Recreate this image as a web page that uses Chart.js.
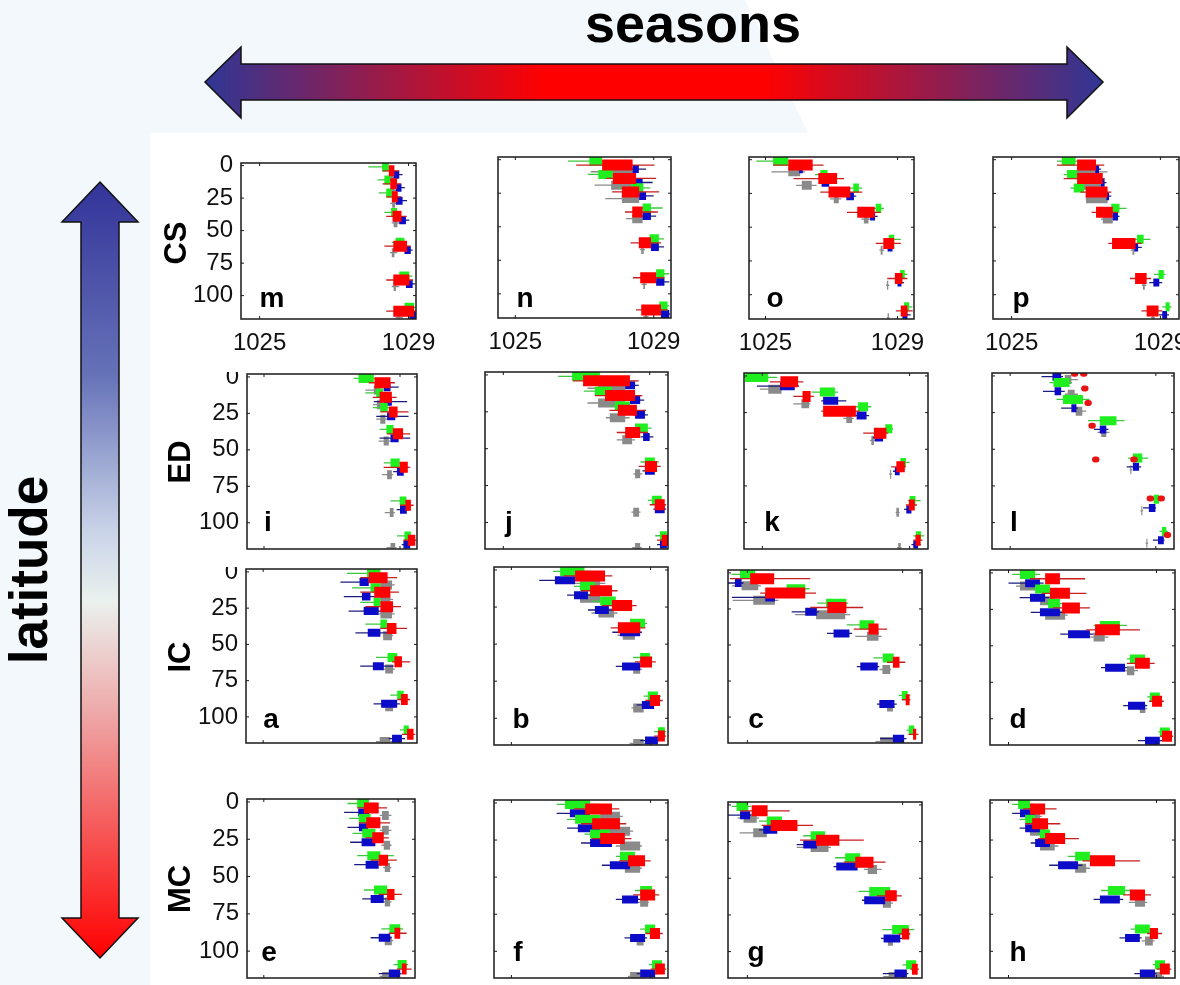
<!DOCTYPE html>
<html>
<head>
<meta charset="utf-8">
<script src="https://cdn.jsdelivr.net/npm/chart.js@4.4.1/dist/chart.umd.min.js"></script>
<style>
  body { margin: 0; width: 1180px; height: 985px; overflow: hidden; background: #fff; font-family: "Liberation Sans", Arial, sans-serif; }
  #bg { position: absolute; left: 0; top: 0; }
  canvas { position: absolute; }
  .lbl { position: absolute; font-weight: bold; color: #000; line-height: 1; white-space: nowrap; }
  .letter { font-size: 28px; transform: translateX(-50%); }
  .row { font-size: 31px; transform: translate(-50%, -50%) rotate(-90deg); }
</style>
</head>
<body>
<svg id="bg" width="1180" height="985">
  <defs>
    <linearGradient id="hgrad" gradientUnits="userSpaceOnUse" x1="205" y1="0" x2="1103" y2="0">
      <stop offset="0" stop-color="#2f3796"/>
      <stop offset="0.38" stop-color="#ff0000"/>
      <stop offset="0.62" stop-color="#ff0000"/>
      <stop offset="1" stop-color="#2f3796"/>
    </linearGradient>
    <linearGradient id="vgrad" gradientUnits="userSpaceOnUse" x1="0" y1="182" x2="0" y2="958">
      <stop offset="0" stop-color="#333399"/>
      <stop offset="0.25" stop-color="#6673b8"/>
      <stop offset="0.45" stop-color="#c9d3e8"/>
      <stop offset="0.54" stop-color="#eaf1ee"/>
      <stop offset="0.68" stop-color="#eeaaaa"/>
      <stop offset="1" stop-color="#ff0000"/>
    </linearGradient>
  </defs>
  <!-- faint slide background -->
  <polygon points="0,0 745,0 808,133 150,133 150,985 0,985" fill="#f3f8fc"/>
  <polygon points="205,82 241,47 241,64 1067,64 1067,47 1103,82 1067,118 1067,100 241,100 241,118"
           fill="url(#hgrad)" stroke="#111" stroke-width="1.5"/>
  <polygon points="100,182 138,222 119,222 119,918 138,918 100,958 62,918 81,918 81,222 62,222"
           fill="url(#vgrad)" stroke="#111" stroke-width="1.5"/>
</svg>

<div class="lbl" style="left:693px;top:-4px;font-size:54px;transform:translateX(-50%);">seasons</div>
<div class="lbl" style="left:28px;top:570px;font-size:53px;transform:translate(-50%,-50%) rotate(-90deg);">latitude</div>

<script>
//#region data
// depth (m) of each sampling group, x values are density (kg/m3)
// every row is [whisker low, box low, box high, whisker high]
const depthLevels = [4, 14, 24, 39, 62, 88, 112];
const lDepthLevels = [-2.5, 7.5, 19, 33.5, 59, 87, 109];
const xTickValues = [1025, 1029];
const yTickValues = [0, 25, 50, 75, 100];

// CS row
const mGreen = [[1027.92,1028.29,1028.47,1028.55],[1028.17,1028.35,1028.51,1028.6],[1028.2,1028.4,1028.55,1028.62],[1028.35,1028.53,1028.69,1028.8],[1028.55,1028.65,1028.89,1028.95],[1028.7,1028.75,1029.02,1029.1],[1028.85,1028.89,1029.15,1029.2]];
const mRed = [[1028.3,1028.47,1028.62,1028.75],[1028.3,1028.51,1028.69,1028.8],[1028.4,1028.55,1028.71,1028.8],[1028.4,1028.57,1028.81,1028.95],[1028.35,1028.59,1028.96,1029.06],[1028.4,1028.59,1029.02,1029.12],[1028.4,1028.59,1029.15,1029.2]];
const mBlue = [[1028.5,1028.6,1028.75,1028.84],[1028.55,1028.66,1028.81,1028.9],[1028.6,1028.66,1028.84,1028.96],[1028.7,1028.75,1028.93,1029.02],[1028.85,1028.89,1029.06,1029.11],[1028.9,1028.93,1029.11,1029.18],[1029.0,1029.02,1029.2,1029.2]];
const mGray = [[1028.45,1028.5,1028.58,1028.62],[1028.5,1028.55,1028.62,1028.7],[1028.5,1028.56,1028.64,1028.7],[1028.55,1028.6,1028.7,1028.8],[1028.5,1028.55,1028.62,1028.7],[1028.55,1028.6,1028.66,1028.75],[1028.65,1028.7,1028.78,1028.85]];

const nGreen = [[1026.52,1027.14,1027.51,1027.9],[1027.1,1027.4,1027.82,1028.0],[1028.0,1028.35,1028.7,1028.9],[1028.5,1028.68,1028.92,1029.26],[1028.7,1028.88,1029.15,1029.3],[1028.95,1029.07,1029.31,1029.45],[1029.1,1029.16,1029.4,1029.45]];
const nRed = [[1026.76,1027.51,1028.39,1029.02],[1027.62,1027.82,1028.49,1029.07],[1027.8,1028.08,1028.58,1029.16],[1028.17,1028.38,1028.68,1029.12],[1028.33,1028.57,1028.92,1029.21],[1028.4,1028.61,1029.07,1029.31],[1028.49,1028.64,1029.21,1029.4]];
const nBlue = [[1028.3,1028.39,1028.57,1028.78],[1028.4,1028.49,1028.68,1028.97],[1028.5,1028.58,1028.78,1029.0],[1028.6,1028.68,1028.92,1029.07],[1028.85,1028.92,1029.15,1029.3],[1029.0,1029.07,1029.31,1029.45],[1029.15,1029.21,1029.45,1029.47]];
const nGray = [[1027.18,1027.62,1028.39,1028.49],[1027.29,1027.77,1028.49,1028.68],[1027.6,1028.08,1028.58,1028.7],[1028.2,1028.38,1028.68,1028.8],[1028.6,1028.64,1028.71,1028.75],[1028.65,1028.7,1028.75,1028.8],[1028.7,1028.75,1028.8,1028.85]];

const oGreen = [[1024.72,1025.23,1025.69,1025.9],[1026.5,1026.66,1026.88,1027.0],[1027.5,1027.66,1027.83,1027.93],[1028.25,1028.34,1028.51,1028.59],[1028.6,1028.74,1028.9,1029.1],[1029.0,1029.08,1029.22,1029.3],[1029.15,1029.2,1029.35,1029.45]];
const oRed = [[1025.23,1025.69,1026.43,1026.76],[1025.85,1026.6,1027.17,1027.38],[1026.66,1026.91,1027.57,1027.93],[1027.47,1027.78,1028.31,1028.49],[1028.34,1028.57,1028.9,1029.1],[1028.69,1028.92,1029.15,1029.3],[1028.95,1029.1,1029.3,1029.46]];
const oBlue = [[1025.95,1026.02,1026.13,1026.2],[1026.65,1026.7,1026.93,1027.0],[1027.35,1027.45,1027.68,1027.75],[1028.0,1028.17,1028.32,1028.4],[1028.6,1028.7,1028.85,1028.9],[1028.95,1029.0,1029.12,1029.2],[1029.1,1029.15,1029.3,1029.4]];
const oGray = [[1025.18,1025.69,1026.05,1026.2],[1025.93,1026.1,1026.4,1026.55],[1026.95,1027.07,1027.22,1027.3],[1027.9,1027.98,1028.12,1028.2],[1028.45,1028.49,1028.55,1028.6],[1028.65,1028.68,1028.72,1028.75],[1028.68,1028.7,1028.74,1028.76]];

const pGreen = [[1026.22,1026.35,1026.72,1026.81],[1026.4,1026.49,1026.76,1026.85],[1026.58,1026.67,1026.95,1027.1],[1027.5,1027.68,1027.9,1028.09],[1028.25,1028.37,1028.55,1028.73],[1028.82,1028.95,1029.09,1029.14],[1029.05,1029.14,1029.25,1029.3]];
const pRed = [[1026.22,1026.76,1027.27,1027.49],[1026.4,1026.76,1027.45,1027.5],[1026.85,1026.99,1027.58,1027.68],[1027.15,1027.27,1027.72,1027.86],[1027.6,1027.7,1028.33,1028.5],[1028.18,1028.32,1028.63,1028.75],[1028.49,1028.63,1028.95,1029.05]];
const pBlue = [[1027.2,1027.25,1027.35,1027.4],[1027.35,1027.4,1027.5,1027.55],[1027.5,1027.55,1027.62,1027.68],[1027.68,1027.72,1027.86,1027.9],[1028.28,1028.3,1028.4,1028.5],[1028.7,1028.81,1028.97,1029.05],[1028.95,1029.05,1029.18,1029.23]];
const pGray = [[1026.67,1026.76,1027.27,1027.58],[1026.85,1026.9,1027.4,1027.45],[1026.99,1027.0,1027.58,1027.6],[1027.4,1027.45,1027.72,1027.8],[1028.2,1028.25,1028.3,1028.35],[1028.5,1028.53,1028.58,1028.62],[1028.75,1028.78,1028.82,1028.85]];

// ED row
const iGreen = [[1027.64,1027.78,1028.23,1028.4],[1027.98,1028.3,1028.5,1028.6],[1028.2,1028.42,1028.64,1028.72],[1028.4,1028.6,1028.81,1028.9],[1028.52,1028.72,1028.99,1029.05],[1028.72,1028.99,1029.19,1029.25],[1028.91,1029.13,1029.32,1029.38]];
const iRed = [[1028.08,1028.25,1028.72,1028.85],[1028.2,1028.4,1028.76,1028.9],[1028.42,1028.67,1028.93,1029.25],[1028.62,1028.79,1029.09,1029.3],[1028.52,1028.99,1029.23,1029.3],[1029.0,1029.16,1029.32,1029.4],[1029.1,1029.23,1029.45,1029.48]];
const iBlue = [[1028.3,1028.52,1028.72,1028.96],[1028.23,1028.52,1028.76,1029.21],[1028.3,1028.62,1028.86,1029.25],[1028.4,1028.72,1028.96,1029.3],[1028.8,1028.91,1029.11,1029.2],[1028.9,1029.0,1029.2,1029.3],[1029.05,1029.1,1029.3,1029.4]];
const iGray = [[1027.98,1028.23,1028.42,1028.5],[1028.2,1028.32,1028.47,1028.55],[1028.3,1028.42,1028.57,1028.62],[1028.37,1028.52,1028.67,1028.72],[1028.47,1028.62,1028.76,1028.8],[1028.55,1028.7,1028.81,1028.85],[1028.6,1028.72,1028.86,1028.9]];

const jGreen = [[1026.5,1026.88,1027.64,1027.9],[1027.2,1027.5,1027.97,1028.1],[1027.9,1028.05,1028.46,1028.6],[1028.45,1028.6,1028.95,1029.05],[1028.75,1028.87,1029.14,1029.25],[1028.95,1029.06,1029.33,1029.4],[1029.15,1029.28,1029.47,1029.5]];
const jRed = [[1026.9,1027.18,1028.46,1028.7],[1027.5,1027.78,1028.6,1028.8],[1027.9,1028.13,1028.65,1028.9],[1028.1,1028.33,1028.74,1028.95],[1028.7,1028.87,1029.2,1029.3],[1029.0,1029.14,1029.41,1029.45],[1029.2,1029.33,1029.5,1029.5]];
const jBlue = [[1028.2,1028.33,1028.6,1028.7],[1028.4,1028.46,1028.74,1028.85],[1028.55,1028.6,1028.87,1028.95],[1028.75,1028.82,1029.0,1029.1],[1028.8,1028.87,1029.14,1029.2],[1029.1,1029.14,1029.41,1029.45],[1029.2,1029.28,1029.47,1029.5]];
const jGray = [[1027.3,1027.59,1028.33,1028.45],[1027.3,1027.59,1028.33,1028.45],[1027.8,1027.91,1028.33,1028.45],[1028.1,1028.25,1028.52,1028.6],[1028.55,1028.6,1028.74,1028.8],[1028.5,1028.55,1028.71,1028.75],[1028.52,1028.6,1028.74,1028.78]];

const kGreen = [[1024.5,1024.53,1025.16,1025.4],[1026.34,1026.56,1026.97,1027.06],[1027.5,1027.6,1027.87,1027.96],[1028.2,1028.34,1028.53,1028.55],[1028.7,1028.75,1028.9,1029.0],[1028.95,1029.0,1029.16,1029.3],[1029.1,1029.17,1029.31,1029.4]];
const kRed = [[1025.2,1025.49,1025.97,1026.11],[1025.84,1026.09,1026.31,1026.4],[1026.6,1026.65,1027.54,1027.65],[1027.74,1028.03,1028.37,1028.42],[1028.5,1028.64,1028.87,1028.9],[1028.9,1028.98,1029.14,1029.2],[1029.1,1029.16,1029.3,1029.35]];
const kBlue = [[1024.85,1025.48,1025.88,1026.0],[1026.6,1026.65,1027.06,1027.28],[1027.5,1027.56,1027.83,1027.9],[1028.0,1028.05,1028.28,1028.3],[1028.55,1028.6,1028.73,1028.78],[1028.85,1028.91,1029.05,1029.1],[1029.05,1029.1,1029.23,1029.3]];
const kGray = [[1024.93,1025.16,1025.52,1025.6],[1025.84,1026.06,1026.27,1026.3],[1027.2,1027.28,1027.44,1027.48],[1027.92,1027.96,1028.03,1028.05],[1028.44,1028.47,1028.5,1028.52],[1028.62,1028.64,1028.71,1028.73],[1028.66,1028.69,1028.76,1028.78]];

const lGreen = [null,[1026.08,1026.19,1026.63,1026.7],[1026.27,1026.45,1027.0,1027.18],[1027.14,1027.46,1027.92,1028.14],[1028.24,1028.37,1028.63,1028.79],[1028.88,1028.94,1029.09,1029.15],[1029.1,1029.17,1029.29,1029.33]];
const lBlue = [[1025.86,1026.16,1026.4,1026.45],[1025.9,1026.22,1026.4,1026.5],[1026.4,1026.68,1026.82,1026.86],[1027.3,1027.46,1027.64,1027.7],[1028.2,1028.37,1028.54,1028.6],[1028.65,1028.81,1028.99,1029.01],[1028.92,1029.06,1029.22,1029.24]];
const lGray = [[1026.27,1026.5,1026.68,1026.86],[1026.5,1026.58,1026.77,1026.86],[1026.73,1026.8,1026.98,1027.09],[1027.4,1027.5,1027.64,1027.73],[1028.28,1028.3,1028.33,1028.35],[1028.58,1028.6,1028.63,1028.65],[1028.72,1028.74,1028.77,1028.79]];
// panel l shows red only as single dots
const lRedX = [1026.77, 1027.02, 1027.05, 1027.14, 1027.25, 1027.35, 1028.4, 1028.85, 1029.15, 1029.32];
const lRedY = [-1.5, -1.5, 8.5, 18.5, 34, 57, 57, 83.5, 83.5, 108.5];

// IC row
const aGreen = [[1027.45,1028.04,1028.43,1028.55],[1027.6,1028.14,1028.43,1028.55],[1027.84,1028.23,1028.43,1028.5],[1027.99,1028.43,1028.62,1028.82],[1028.3,1028.64,1028.92,1029.0],[1028.72,1028.92,1029.11,1029.15],[1029.0,1029.11,1029.26,1029.3]];
const aRed = [[1027.84,1028.09,1028.64,1028.92],[1027.84,1028.25,1028.72,1028.97],[1027.99,1028.43,1028.8,1029.03],[1028.43,1028.62,1028.9,1029.21],[1028.77,1028.84,1029.06,1029.3],[1028.92,1029.03,1029.23,1029.3],[1029.06,1029.21,1029.4,1029.45]];
const aBlue = [[1027.26,1027.82,1028.09,1028.43],[1027.36,1027.89,1028.14,1028.5],[1027.5,1027.94,1028.38,1028.6],[1027.7,1028.06,1028.43,1028.7],[1027.84,1028.21,1028.53,1028.82],[1028.23,1028.45,1028.92,1029.0],[1028.67,1028.77,1029.06,1029.15]];
const aGray = [[1028.3,1028.43,1028.77,1028.85],[1028.35,1028.43,1028.72,1028.8],[1028.38,1028.43,1028.77,1028.85],[1028.5,1028.51,1028.77,1028.8],[1028.5,1028.57,1028.8,1028.85],[1028.5,1028.57,1028.8,1028.85],[1028.3,1028.41,1028.72,1028.8]];

const bGreen = [[1026.2,1026.4,1027.1,1027.3],[1026.8,1026.97,1027.4,1027.55],[1027.3,1027.55,1028.0,1028.1],[1028.2,1028.41,1028.84,1028.9],[1028.5,1028.7,1028.98,1029.05],[1028.8,1028.92,1029.21,1029.3],[1029.1,1029.21,1029.41,1029.45]];
const bRed = [[1026.5,1026.83,1027.69,1027.9],[1027.0,1027.26,1027.89,1028.05],[1027.6,1027.89,1028.47,1028.6],[1027.85,1028.06,1028.7,1028.85],[1028.55,1028.7,1029.04,1029.15],[1028.85,1028.98,1029.27,1029.35],[1029.1,1029.21,1029.41,1029.45]];
const bBlue = [[1025.8,1026.25,1026.83,1027.0],[1026.6,1026.8,1027.2,1027.35],[1027.2,1027.4,1027.8,1027.9],[1027.9,1028.12,1028.7,1028.75],[1028.0,1028.18,1028.7,1028.75],[1028.6,1028.75,1029.1,1029.15],[1028.7,1028.84,1029.21,1029.25]];
const bGray = [[1026.6,1026.97,1027.55,1027.7],[1026.8,1026.97,1027.55,1027.7],[1027.3,1027.5,1027.95,1028.05],[1028.05,1028.2,1028.55,1028.6],[1028.4,1028.5,1028.7,1028.75],[1028.45,1028.5,1028.8,1028.85],[1028.4,1028.5,1028.8,1028.85]];

const cGreen = [[1024.59,1024.81,1025.2,1025.3],[1025.8,1026.01,1026.49,1026.6],[1026.8,1027.03,1027.55,1027.6],[1027.56,1027.89,1028.27,1028.35],[1028.25,1028.49,1028.77,1028.85],[1028.9,1028.98,1029.13,1029.2],[1029.1,1029.16,1029.3,1029.35]];
const cRed = [[1024.55,1025.07,1025.69,1026.62],[1025.33,1025.46,1026.49,1026.77],[1026.62,1027.06,1027.55,1027.98],[1027.74,1028.12,1028.38,1028.6],[1028.6,1028.75,1028.92,1029.07],[1028.98,1029.08,1029.18,1029.2],[1029.15,1029.27,1029.35,1029.41]];
const cBlue = [[1024.5,1024.68,1024.85,1024.9],[1024.6,1025.46,1025.71,1025.75],[1026.14,1026.49,1026.79,1026.85],[1027.05,1027.22,1027.63,1027.7],[1027.82,1027.91,1028.36,1028.4],[1028.34,1028.4,1028.79,1028.85],[1028.42,1028.75,1029.04,1029.1]];
const cGray = [[1024.6,1024.85,1025.28,1025.35],[1024.62,1025.15,1025.71,1025.8],[1026.23,1026.77,1027.52,1027.65],[1027.78,1028.08,1028.38,1028.46],[1028.4,1028.48,1028.68,1028.7],[1028.55,1028.6,1028.75,1028.8],[1028.3,1028.42,1028.77,1028.8]];

const dGreen = [[1025.1,1025.31,1025.72,1025.85],[1025.6,1025.72,1026.12,1026.25],[1025.95,1026.07,1026.39,1026.5],[1027.3,1027.47,1028.01,1028.2],[1028.2,1028.28,1028.69,1028.8],[1028.75,1028.82,1029.09,1029.15],[1029.05,1029.09,1029.36,1029.4]];
const dRed = [[1025.58,1025.99,1026.39,1027.07],[1025.9,1026.12,1026.66,1027.1],[1026.2,1026.45,1026.93,1027.2],[1027.1,1027.34,1028.01,1028.55],[1028.2,1028.42,1028.82,1028.95],[1028.8,1028.88,1029.15,1029.2],[1029.1,1029.15,1029.42,1029.45]];
const dBlue = [[1025.0,1025.45,1025.85,1025.95],[1025.3,1025.58,1025.99,1026.1],[1025.6,1025.85,1026.39,1026.45],[1026.4,1026.61,1027.2,1027.3],[1027.5,1027.61,1028.15,1028.2],[1028.1,1028.23,1028.69,1028.75],[1028.5,1028.69,1029.09,1029.15]];
const dGray = [[1025.2,1025.31,1025.72,1025.8],[1025.6,1025.85,1026.25,1026.35],[1025.9,1025.99,1026.53,1026.6],[1027.2,1027.3,1027.6,1027.7],[1028.1,1028.2,1028.4,1028.5],[1028.5,1028.55,1028.7,1028.75],[1028.8,1028.85,1029.0,1029.05]];

// MC row
const eGreen = [[1027.49,1027.78,1028.13,1028.3],[1027.54,1027.83,1028.18,1028.3],[1027.64,1027.93,1028.32,1028.45],[1027.78,1028.08,1028.47,1028.87],[1027.98,1028.28,1028.67,1028.8],[1028.5,1028.74,1029.06,1029.15],[1028.86,1028.98,1029.25,1029.3]];
const eRed = [[1027.78,1027.98,1028.42,1028.67],[1027.83,1028.05,1028.47,1028.76],[1028.03,1028.23,1028.57,1028.72],[1028.18,1028.42,1028.7,1028.96],[1028.42,1028.67,1028.89,1029.11],[1028.72,1028.89,1029.06,1029.25],[1028.96,1029.11,1029.25,1029.4]];
const eBlue = [[1027.39,1027.81,1028.13,1028.2],[1027.49,1027.83,1028.1,1028.2],[1027.57,1027.91,1028.32,1028.4],[1027.69,1028.03,1028.42,1028.5],[1027.93,1028.18,1028.57,1028.65],[1028.18,1028.42,1028.76,1028.8],[1028.42,1028.72,1029.06,1029.1]];
const eGray = [[1028.45,1028.52,1028.72,1028.8],[1028.45,1028.52,1028.72,1028.8],[1028.5,1028.57,1028.76,1028.8],[1028.55,1028.6,1028.76,1028.8],[1028.55,1028.6,1028.76,1028.8],[1028.55,1028.6,1028.81,1028.85],[1028.45,1028.52,1028.72,1028.75]];

const fGreen = [[1026.3,1026.54,1027.26,1027.5],[1026.6,1026.83,1027.55,1027.7],[1027.1,1027.26,1027.83,1027.95],[1028.0,1028.12,1028.55,1028.65],[1028.55,1028.7,1029.04,1029.1],[1028.7,1028.84,1029.13,1029.2],[1028.95,1029.04,1029.33,1029.4]];
const fRed = [[1026.8,1027.12,1027.89,1028.1],[1027.0,1027.32,1028.12,1028.3],[1027.3,1027.55,1028.26,1028.45],[1028.1,1028.35,1028.84,1029.0],[1028.5,1028.7,1029.13,1029.25],[1028.85,1028.98,1029.27,1029.35],[1029.0,1029.13,1029.41,1029.45]];
const fBlue = [[1026.3,1026.68,1027.26,1027.4],[1026.6,1026.91,1027.55,1027.65],[1027.0,1027.26,1027.89,1028.0],[1027.6,1027.83,1028.41,1028.5],[1028.0,1028.18,1028.64,1028.7],[1028.25,1028.41,1028.84,1028.9],[1028.6,1028.7,1029.13,1029.2]];
const fGray = [[1027.4,1027.55,1028.12,1028.2],[1027.4,1027.55,1028.41,1028.5],[1028.0,1028.12,1028.7,1028.75],[1028.2,1028.26,1028.7,1028.75],[1028.6,1028.7,1028.93,1028.95],[1028.5,1028.6,1028.8,1028.85],[1028.35,1028.41,1028.7,1028.75]];

const gGreen = [[1024.6,1024.72,1025.02,1025.1],[1025.3,1025.5,1025.89,1025.95],[1026.44,1026.63,1027.0,1027.1],[1027.26,1027.52,1027.91,1028.0],[1027.86,1028.14,1028.68,1028.75],[1028.48,1028.73,1029.16,1029.3],[1029.0,1029.09,1029.35,1029.4]];
const gRed = [[1024.81,1025.11,1025.52,1026.09],[1025.37,1025.6,1026.29,1026.69],[1026.36,1026.77,1027.37,1028.0],[1027.48,1027.78,1028.25,1028.56],[1028.34,1028.55,1028.85,1028.98],[1028.9,1028.98,1029.17,1029.2],[1029.2,1029.24,1029.39,1029.42]];
const gBlue = [[1024.5,1024.81,1025.07,1025.1],[1025.3,1025.41,1025.77,1025.85],[1026.27,1026.44,1026.79,1026.85],[1027.22,1027.29,1027.84,1027.9],[1027.95,1028.01,1028.55,1028.6],[1028.44,1028.51,1028.94,1029.0],[1028.49,1028.79,1029.11,1029.15]];
const gGray = [[1024.75,1024.9,1025.24,1025.3],[1024.8,1025.15,1025.5,1025.55],[1026.27,1026.63,1027.09,1027.15],[1028.0,1028.1,1028.34,1028.46],[1028.45,1028.49,1028.7,1028.75],[1028.6,1028.62,1028.75,1028.8],[1028.5,1028.64,1028.81,1028.85]];

const hGreen = [[1025.1,1025.26,1025.58,1025.7],[1025.3,1025.45,1025.72,1025.8],[1025.75,1025.85,1026.12,1026.2],[1026.6,1026.8,1027.2,1027.35],[1027.5,1027.69,1028.15,1028.3],[1028.3,1028.42,1028.82,1028.9],[1028.9,1028.96,1029.23,1029.3]];
const hRed = [[1025.4,1025.58,1025.99,1026.3],[1025.45,1025.64,1026.07,1026.4],[1025.8,1025.99,1026.53,1026.9],[1027.0,1027.2,1027.88,1028.55],[1028.1,1028.28,1028.69,1028.85],[1028.75,1028.82,1029.04,1029.15],[1029.0,1029.09,1029.36,1029.4]];
const hBlue = [[1025.1,1025.31,1025.72,1025.8],[1025.3,1025.45,1025.85,1025.9],[1025.6,1025.72,1026.12,1026.2],[1026.1,1026.34,1026.88,1027.0],[1027.3,1027.47,1028.01,1028.1],[1028.0,1028.15,1028.55,1028.6],[1028.4,1028.55,1028.96,1029.0]];
const hGray = [[1025.4,1025.53,1025.85,1025.9],[1025.5,1025.58,1025.99,1026.1],[1025.75,1025.85,1026.25,1026.35],[1026.7,1026.8,1027.1,1027.2],[1028.25,1028.42,1028.69,1028.75],[1028.6,1028.69,1028.9,1028.95],[1028.85,1028.96,1029.15,1029.2]];
//#endregion

//#region layout
// frame = [left, top, width, height] of each plot box on the page
const panels = [
  { id: "m", frame: [241, 163, 175, 156], xMax: 1029.2, row: 0, col: 0, green: mGreen, red: mRed, blue: mBlue, gray: mGray },
  { id: "n", frame: [498, 157, 173, 161], xMax: 1029.5, row: 0, col: 1, green: nGreen, red: nRed, blue: nBlue, gray: nGray },
  { id: "o", frame: [749, 157, 165, 162], xMax: 1029.5, row: 0, col: 2, green: oGreen, red: oRed, blue: oBlue, gray: oGray },
  { id: "p", frame: [993, 157, 186, 162], xMax: 1029.5, row: 0, col: 3, green: pGreen, red: pRed, blue: pBlue, gray: pGray },
  { id: "i", frame: [247, 374, 170, 175], xMax: 1029.5, row: 1, col: 0, green: iGreen, red: iRed, blue: iBlue, gray: iGray },
  { id: "j", frame: [485, 372, 183, 177], xMax: 1029.5, row: 1, col: 1, green: jGreen, red: jRed, blue: jBlue, gray: jGray },
  { id: "k", frame: [744, 373, 184, 176], xMax: 1029.5, row: 1, col: 2, green: kGreen, red: kRed, blue: kBlue, gray: kGray },
  { id: "l", frame: [992, 373, 182, 176], xMax: 1029.5, row: 1, col: 3, green: lGreen, red: null, blue: lBlue, gray: lGray, depth: lDepthLevels },
  { id: "a", frame: [246, 569, 171, 174], xMax: 1029.5, row: 2, col: 0, green: aGreen, red: aRed, blue: aBlue, gray: aGray },
  { id: "b", frame: [494, 567, 174, 178], xMax: 1029.5, row: 2, col: 1, green: bGreen, red: bRed, blue: bBlue, gray: bGray },
  { id: "c", frame: [728, 570, 194, 173], xMax: 1029.5, row: 2, col: 2, green: cGreen, red: cRed, blue: cBlue, gray: cGray },
  { id: "d", frame: [990, 570, 185, 175], xMax: 1029.5, row: 2, col: 3, green: dGreen, red: dRed, blue: dBlue, gray: dGray },
  { id: "e", frame: [247, 799, 168, 179], xMax: 1029.5, row: 3, col: 0, green: eGreen, red: eRed, blue: eBlue, gray: eGray },
  { id: "f", frame: [494, 800, 174, 178], xMax: 1029.5, row: 3, col: 1, green: fGreen, red: fRed, blue: fBlue, gray: fGray },
  { id: "g", frame: [728, 802, 194, 176], xMax: 1029.5, row: 3, col: 2, green: gGreen, red: gRed, blue: gBlue, gray: gGray },
  { id: "h", frame: [990, 800, 185, 178], xMax: 1029.5, row: 3, col: 3, green: hGreen, red: hRed, blue: hBlue, gray: hGray },
];

// top padding per row: rows 2 and 3 clip the "0" label like the original
const rowTopPad = [14, 2, 2, 14];
const letterY = [284, 508, 705, 938];
const letterDx = { m: 31, n: 27, o: 26, p: 28, i: 21, j: 24, k: 28, l: 22, a: 25, b: 27, c: 28, d: 28, e: 22, f: 24, g: 28, h: 28 };
const rowNames = [["CS", 175, 243], ["ED", 179, 462], ["IC", 179, 657], ["MC", 179, 889]];

// colour styles: box, whisker, box thickness, vertical offset (depth units), draw order
const styles = {
  red:   { box: "#ff0000", wh: "#c81e1e", bw: 11, off: 0,  order: 0 },
  green: { box: "#1fee1f", wh: "#3cc83c", bw: 9,  off: -3, order: 2 },
  blue:  { box: "#0c0cc8", wh: "#1c1c80", bw: 8,  off: 3,  order: 4 },
  gray:  { box: "#8a8a8a", wh: "#8a8a8a", bw: 9,  off: 5,  order: 6 },
};
const Y_AXIS_W = 75;
const X_AXIS_H = 42;
const RIGHT_PAD = 32;
//#endregion

//#region drawing
// build a broken line: one segment per depth group, null y breaks it
function segments(rows, depths, off, lo, hi) {
  const pts = [];
  rows.forEach((r, k) => {
    if (!r) return;
    const y = depths[k] + off;
    pts.push({ x: r[lo], y: y }, { x: r[hi], y: y }, { x: r[hi], y: null });
  });
  return pts;
}

function colourDatasets(rows, depths, name) {
  const s = styles[name];
  return [
    {
      data: segments(rows, depths, s.off, 1, 2),
      borderColor: s.box, borderWidth: s.bw, borderCapStyle: "butt",
      showLine: true, pointRadius: 0, order: s.order,
    },
    {
      data: segments(rows, depths, s.off, 0, 3),
      borderColor: s.wh, borderWidth: 1.3,
      showLine: true, pointRadius: 0, order: s.order + 1,
    },
  ];
}

// red dots of panel l drawn as tiny rounded bars
function dotDataset(xs, ys) {
  const pts = [];
  xs.forEach((x, k) => {
    pts.push({ x: x - 0.02, y: ys[k] }, { x: x + 0.02, y: ys[k] }, { x: x, y: null });
  });
  return {
    data: pts, borderColor: "#e81414", borderWidth: 6, borderCapStyle: "round",
    showLine: true, pointRadius: 0, order: 0,
  };
}

// box frame with the little inward ticks on every side
const framePlugin = {
  id: "frame",
  afterDraw(chart) {
    const { ctx, chartArea: a, scales } = chart;
    ctx.save();
    ctx.strokeStyle = "#1a1a1a";
    ctx.lineWidth = 1.5;
    ctx.strokeRect(a.left, a.top, a.right - a.left, a.bottom - a.top);
    ctx.lineWidth = 1;
    ctx.beginPath();
    xTickValues.forEach((v) => {
      const x = scales.x.getPixelForValue(v);
      ctx.moveTo(x, a.top); ctx.lineTo(x, a.top + 3);
      ctx.moveTo(x, a.bottom); ctx.lineTo(x, a.bottom - 3);
    });
    yTickValues.forEach((v) => {
      const y = scales.y.getPixelForValue(v);
      ctx.moveTo(a.left, y); ctx.lineTo(a.left + 3, y);
      ctx.moveTo(a.right, y); ctx.lineTo(a.right - 3, y);
    });
    ctx.stroke();
    ctx.restore();
  },
};

const tickFont = { family: "'Liberation Sans', Arial, sans-serif", size: 24 };

function makePanel(p) {
  const [fx, fy, fw, fh] = p.frame;
  const topPad = rowTopPad[p.row];
  const canvas = document.createElement("canvas");
  canvas.width = fw + Y_AXIS_W + RIGHT_PAD;
  canvas.height = fh + topPad + X_AXIS_H;
  canvas.style.left = fx - Y_AXIS_W + "px";
  canvas.style.top = fy - topPad + "px";
  document.body.appendChild(canvas);

  const depths = p.depth || depthLevels;
  let datasets = [];
  if (p.red) datasets = datasets.concat(colourDatasets(p.red, depths, "red"));
  else datasets.push(dotDataset(lRedX, lRedY));
  datasets = datasets
    .concat(colourDatasets(p.green, depths, "green"))
    .concat(colourDatasets(p.blue, depths, "blue"))
    .concat(colourDatasets(p.gray, depths, "gray"));

  new Chart(canvas, {
    type: "scatter",
    data: { datasets: datasets },
    options: {
      responsive: false,
      animation: false,
      events: [],
      layout: { padding: { top: topPad, right: RIGHT_PAD, left: 0, bottom: 0 } },
      plugins: { legend: { display: false }, tooltip: { enabled: false } },
      scales: {
        x: {
          type: "linear", min: 1024.5, max: p.xMax, position: "bottom",
          grid: { display: false, drawTicks: false }, border: { display: false },
          afterBuildTicks: (s) => { s.ticks = xTickValues.map((v) => ({ value: v })); },
          afterFit: (s) => { s.height = X_AXIS_H; s.paddingLeft = 0; s.paddingRight = 0; },
          ticks: {
            display: p.row === 0, padding: 10, color: "#111", font: tickFont,
            maxRotation: 0, autoSkip: false, callback: (v) => String(v),
          },
        },
        y: {
          type: "linear", min: -2, max: 118, reverse: true,
          grid: { display: false, drawTicks: false }, border: { display: false },
          afterBuildTicks: (s) => { s.ticks = yTickValues.map((v) => ({ value: v })); },
          afterFit: (s) => { s.width = Y_AXIS_W; s.paddingTop = 0; s.paddingBottom = 0; },
          ticks: {
            display: p.col === 0, padding: 8, color: "#111", font: tickFont,
            autoSkip: false, callback: (v) => String(v),
          },
        },
      },
    },
    plugins: [framePlugin],
  });

  // panel letter
  const letter = document.createElement("div");
  letter.className = "lbl letter";
  letter.textContent = p.id;
  letter.style.left = fx + letterDx[p.id] + "px";
  letter.style.top = letterY[p.row] + "px";
  document.body.appendChild(letter);
}

panels.forEach(makePanel);

// row labels on the left
rowNames.forEach(([name, x, y]) => {
  const d = document.createElement("div");
  d.className = "lbl row";
  d.textContent = name;
  d.style.left = x + "px";
  d.style.top = y + "px";
  document.body.appendChild(d);
});
//#endregion
</script>
</body>
</html>
